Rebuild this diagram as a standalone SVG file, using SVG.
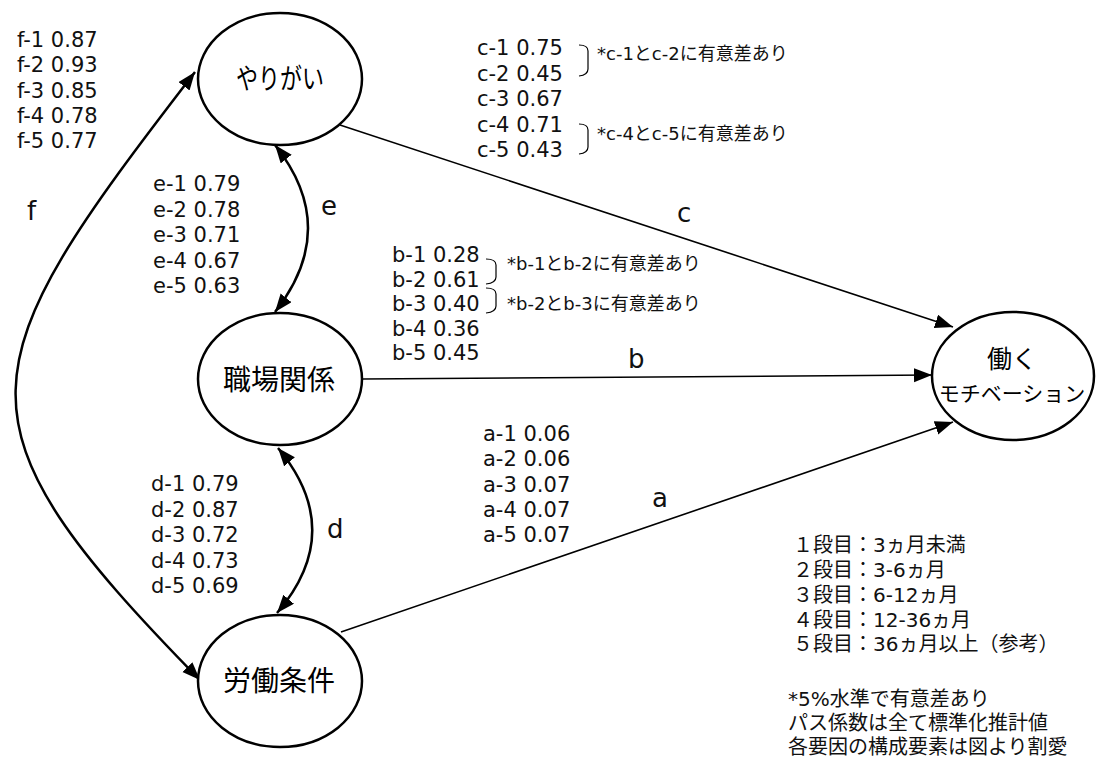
<svg xmlns="http://www.w3.org/2000/svg" width="1096" height="760" viewBox="0 0 1096 760">
  <style>
    .node ellipse { fill: #fff; stroke: #000; stroke-width: 2.5; }
    .nlabel { font-family: "Noto Sans CJK JP", sans-serif; font-size: 28px; fill: #000; text-anchor: middle; }
    .path { fill: none; stroke: #000; stroke-width: 1.6; }
    .cov { fill: none; stroke: #000; stroke-width: 2.5; }
    .coef { font-family: "DejaVu Sans", "Noto Sans CJK JP", sans-serif; font-size: 21px; fill: #111; }
    .tag { font-family: "DejaVu Sans", sans-serif; font-size: 26px; fill: #111; }
    .note { font-family: "DejaVu Sans", "Noto Sans CJK JP", sans-serif; font-size: 18px; fill: #111; }
    .legend { font-family: "DejaVu Sans", "Noto Sans CJK JP", sans-serif; font-size: 20px; fill: #111; }
    .brace { fill: none; stroke: #000; stroke-width: 1.2; }
  </style>
  <defs>
    <marker id="arrow" markerUnits="userSpaceOnUse" markerWidth="20" markerHeight="16" refX="18" refY="7" orient="auto-start-reverse">
      <path d="M0,0 L18,7 L0,14 z" fill="#000"/>
    </marker>
  </defs>

  <!-- connectors -->
  <g id="connectors">
    <path class="path" d="M340,125 L953,327" marker-end="url(#arrow)"/>
    <path class="path" d="M363,379 L932,375" marker-end="url(#arrow)"/>
    <path class="path" d="M341,632 L953,422" marker-end="url(#arrow)"/>
    <path class="cov" d="M275,145 Q341,228 275,312" marker-start="url(#arrow)" marker-end="url(#arrow)"/>
    <path class="cov" d="M278,448 Q347,531 277,613" marker-start="url(#arrow)" marker-end="url(#arrow)"/>
    <path class="cov" d="M195,72 C-35,370 -55,420 200,680" marker-start="url(#arrow)" marker-end="url(#arrow)"/>
  </g>

  <!-- nodes -->
  <g id="node-yarigai" class="node">
    <ellipse cx="280" cy="79" rx="82" ry="66"/>
    <text class="nlabel" x="280" y="89" textLength="88" lengthAdjust="spacingAndGlyphs">やりがい</text>
  </g>
  <g id="node-shokuba" class="node">
    <ellipse cx="280" cy="379" rx="82" ry="66"/>
    <text class="nlabel" x="279" y="390">職場関係</text>
  </g>
  <g id="node-roudou" class="node">
    <ellipse cx="280" cy="681" rx="82" ry="66"/>
    <text class="nlabel" x="279" y="691">労働条件</text>
  </g>
  <g id="node-motivation" class="node">
    <ellipse cx="1013" cy="376" rx="81" ry="64"/>
    <text class="nlabel" x="1012" y="368" style="font-size:25px">働く</text>
    <text class="nlabel" x="1012" y="401" style="font-size:21px">モチベーション</text>
  </g>

  <!-- path labels -->
  <g id="path-labels">
    <text class="tag" x="677" y="222">c</text>
    <text class="tag" x="628" y="368">b</text>
    <text class="tag" x="652" y="507">a</text>
    <text class="tag" x="327" y="538">d</text>
    <text class="tag" x="321" y="215">e</text>
    <text class="tag" x="27" y="220">f</text>
  </g>

  <!-- coefficients -->
  <g id="coef-f" class="coef">
    <text x="17" y="47">f-1 0.87</text>
    <text x="17" y="72.3">f-2 0.93</text>
    <text x="17" y="97.5">f-3 0.85</text>
    <text x="17" y="122.8">f-4 0.78</text>
    <text x="17" y="148">f-5 0.77</text>
  </g>
  <g id="coef-e" class="coef">
    <text x="153" y="191">e-1 0.79</text>
    <text x="153" y="216.5">e-2 0.78</text>
    <text x="153" y="242">e-3 0.71</text>
    <text x="153" y="267.5">e-4 0.67</text>
    <text x="153" y="293">e-5 0.63</text>
  </g>
  <g id="coef-d" class="coef">
    <text x="151" y="491">d-1 0.79</text>
    <text x="151" y="516.5">d-2 0.87</text>
    <text x="151" y="542">d-3 0.72</text>
    <text x="151" y="567.5">d-4 0.73</text>
    <text x="151" y="593">d-5 0.69</text>
  </g>
  <g id="coef-a" class="coef">
    <text x="483" y="441">a-1 0.06</text>
    <text x="483" y="466.3">a-2 0.06</text>
    <text x="483" y="491.5">a-3 0.07</text>
    <text x="483" y="516.8">a-4 0.07</text>
    <text x="483" y="542">a-5 0.07</text>
  </g>
  <g id="coef-b" class="coef">
    <text x="392" y="262">b-1 0.28</text>
    <text x="392" y="286.5">b-2 0.61</text>
    <text x="392" y="311">b-3 0.40</text>
    <text x="392" y="335.5">b-4 0.36</text>
    <text x="392" y="360">b-5 0.45</text>
  </g>
  <g id="coef-c" class="coef">
    <text x="477" y="55">c-1 0.75</text>
    <text x="477" y="80.5">c-2 0.45</text>
    <text x="477" y="106">c-3 0.67</text>
    <text x="477" y="131.5">c-4 0.71</text>
    <text x="477" y="157">c-5 0.43</text>
  </g>

  <!-- significance brackets and notes -->
  <g id="significance">
    <path class="brace" d="M579,45 Q588,45 588,51 L588,69 Q588,75 579,76"/>
    <path class="brace" d="M579,124 Q588,124 588,130 L588,147 Q588,153 579,154"/>
    <path class="brace" d="M486,259 Q496,259 496,265 L496,277 Q496,283 486,284"/>
    <path class="brace" d="M486,288 Q496,288 496,294 L496,306 Q496,312 486,313"/>
    <text class="note" x="597" y="60">*c-1とc-2に有意差あり</text>
    <text class="note" x="597" y="140">*c-4とc-5に有意差あり</text>
    <text class="note" x="507" y="270">*b-1とb-2に有意差あり</text>
    <text class="note" x="507" y="310">*b-2とb-3に有意差あり</text>
  </g>

  <!-- legend -->
  <g id="legend" class="legend">
    <text x="793" y="552">１段目：3ヵ月未満</text>
    <text x="793" y="577">２段目：3-6ヵ月</text>
    <text x="793" y="602">３段目：6-12ヵ月</text>
    <text x="793" y="627">４段目：12-36ヵ月</text>
    <text x="793" y="651">５段目：36ヵ月以上（参考）</text>
    <text x="788" y="706">*5%水準で有意差あり</text>
    <text x="788" y="730">パス係数は全て標準化推計値</text>
    <text x="788" y="754">各要因の構成要素は図より割愛</text>
  </g>
</svg>
